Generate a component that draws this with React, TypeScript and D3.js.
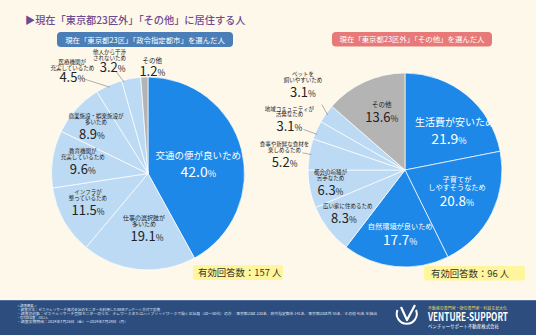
import React from "react";
import * as d3 from "d3";

// ---------- data ----------
const titleText = "▶現在「東京都23区外」「その他」に居住する人";

const leftHeading = "現在「東京都23区」「政令指定都市」を選んだ人";
const leftCategories = [
  "交通の便が良いため",
  "仕事の選択肢が\n多いため",
  "インフラが\n整っているため",
  "教育機関が\n充実しているため",
  "商業施設・娯楽施設が\n多いため",
  "医療機関が\n充実しているため",
  "他人から干渉\nされないため",
  "その他",
];
const leftValues = [42.0, 19.1, 11.5, 9.6, 8.9, 4.5, 3.2, 1.2];
const leftKinds = ["main", "sub", "sub", "sub", "sub", "sub", "sub", "other"];
const leftCount = "有効回答数：157 人";

const rightHeading = "現在「東京都23区外」「その他」を選んだ人";
const rightCategories = [
  "生活費が安いため",
  "子育てが\nしやすそうなため",
  "自然環境が良いため",
  "広い家に住めるため",
  "都会の喧騒が\n苦手なため",
  "食事や新鮮な食材を\n楽しめるため",
  "地域コミュニティが\n活発なため",
  "ペットを\n飼いやすいため",
  "その他",
];
const rightValues = [21.9, 20.8, 17.7, 8.3, 6.3, 5.2, 3.1, 3.1, 13.6];
const rightKinds = ["main", "main", "main", "sub", "sub", "sub", "sub", "sub", "other"];
const rightCount = "有効回答数：96 人";

const footerLines = [
  "＜調査概要＞",
  "・調査方法：ゼネラルリサーチ株式会社のモニターを利用したWEBアンケート方式で実施",
  "・調査の対象：ゼネラルリサーチ登録モニターのうち、テレワークまたはハイブリッドワークで働く正社員（20～50代）の方 ／東京都23区 233名／政令指定都市 141名／東京都23区外 55名／その他 41名 を抽出",
  "・有効回答数：1011人",
  "・調査実施期間：2024年7月26日（金）～2024年7月29日（月）",
];
const footerWidths = [20, 143, 360, 31, 111];

// ---------- layout / style ----------
const W = 536;
const H = 335;
const FONT = "'Noto Sans CJK JP', 'Noto Sans', sans-serif";
const COLORS: Record<string, string> = { main: "#1E88E8", sub: "#BCDAF3", other: "#B4B4B4" };
const BG = "#FDF8EA";

type LabelCfg = {
  rho: number; dx: number; dy: number; tfs: number; nfs: number; white?: boolean;
  tdx?: number; gapAdj?: number; leader?: [number, number, number];
};

const leftLayout: LabelCfg[] = [
  { rho: 52, dx: 0, dy: 16, tfs: 9.5, nfs: 14, white: true },
  { rho: 62, dx: 5, dy: 6, tfs: 6, nfs: 13, tdx: -3 },
  { rho: 70, dx: 1, dy: 7, tfs: 5.5, nfs: 13 },
  { rho: 66, dx: 0, dy: 10, tfs: 5.5, nfs: 13 },
  { rho: 70, dx: -4, dy: 12, tfs: 5.5, nfs: 13, tdx: 4 },
  { rho: 115, dx: -29, dy: 14, tfs: 5.5, nfs: 13, gapAdj: -2.5, leader: [13, -3, 0.5] },
  { rho: 105, dx: -17, dy: 2, tfs: 5.5, nfs: 13, tdx: -3, gapAdj: -2.5, leader: [4, 0, 0.1] },
  { rho: 98, dx: 8, dy: 0, tfs: 6.5, nfs: 13, gapAdj: -2.5 },
];
const rightLayout: LabelCfg[] = [
  { rho: 55, dx: 9, dy: 16, tfs: 10, nfs: 14, white: true, tdx: 6 },
  { rho: 58, dx: 0, dy: 10, tfs: 7.2, nfs: 13.5, white: true },
  { rho: 70, dx: 2, dy: 5, tfs: 7.2, nfs: 13.5, white: true },
  { rho: 76, dx: -1, dy: 7, tfs: 5.5, nfs: 13, tdx: 4 },
  { rho: 76, dx: 0, dy: 10, tfs: 5.5, nfs: 13 },
  { rho: 118, dx: -4, dy: 16, tfs: 5.5, nfs: 13, leader: [18, -14, 0.5] },
  { rho: 118, dx: -8, dy: 10, tfs: 5.5, nfs: 13, leader: [14, -2, 0.3] },
  { rho: 118, dx: -6, dy: -5, tfs: 5.5, nfs: 13, leader: [19, 8, 0.5] },
  { rho: 56, dx: 0, dy: 3, tfs: 6.5, nfs: 13 },
];

function Pie(props: {
  cx: number; cy: number; r: number; cats: string[]; values: number[]; kinds: string[]; layout: LabelCfg[];
}) {
  const { cx, cy, r, cats, values, kinds, layout } = props;
  const arcs = d3.pie<number>().sort(null).value((d) => d)(values);
  const arcGen = d3.arc<d3.PieArcDatum<number>>().innerRadius(0).outerRadius(r);
  return (
    <g>
      <g transform={`translate(${cx},${cy})`}>
        {arcs.map((a, i) => (
          <path key={i} d={arcGen(a) || ""} fill={COLORS[kinds[i]]} stroke="#ffffff" strokeWidth={0.7} />
        ))}
      </g>
      {arcs.map((a, i) => {
        const L = layout[i];
        const mid = (a.startAngle + a.endAngle) / 2;
        const x = cx + L.rho * Math.sin(mid) + L.dx;
        const y = cy - L.rho * Math.cos(mid) + L.dy;
        const lines = cats[i].split("\n");
        const fill = L.white ? "#ffffff" : "#222222";
        const gap = L.nfs * 0.75 + L.tfs * 0.45 + 2.8 + (L.gapAdj || 0);
        const lh = L.tfs * 1.05;
        let leader = null;
        if (L.leader) {
          const ang = a.startAngle + (a.endAngle - a.startAngle) * L.leader[2];
          const ex = cx + (r - 2) * Math.sin(ang);
          const ey = cy - (r - 2) * Math.cos(ang);
          leader = (
            <line x1={x + L.leader[0]} y1={y + L.leader[1]} x2={ex} y2={ey} stroke="#7a7a7a" strokeWidth={0.6} />
          );
        }
        return (
          <g key={"l" + i}>
            {leader}
            {lines.map((t, j) => (
              <text
                key={j}
                x={x + (L.tdx || 0)}
                y={y - gap - (lines.length - 1 - j) * lh}
                textAnchor="middle"
                fontSize={L.tfs}
                fill={fill}
                fontFamily={FONT}
              >
                {t}
              </text>
            ))}
            <text x={x} y={y} textAnchor="middle" fontSize={L.nfs} fill={fill} fontFamily={FONT}>
              {values[i].toFixed(1)}
              <tspan fontSize={L.nfs * 0.65}>%</tspan>
            </text>
          </g>
        );
      })}
    </g>
  );
}

export default function App() {
  return (
    <svg width={W} height={H} style={{ position: "absolute", left: 0, top: 0 }} fontFamily={FONT}>
      <rect x={0} y={0} width={W} height={H} fill={BG} />
      <text x={25} y={24} fontSize={10.2} fill="#6E4A92" fontWeight={500}>
        {titleText}
      </text>

      <rect x={57} y={32} width={176} height={15} rx={4} fill="#4B7DB6" />
      <text x={145} y={42.5} textAnchor="middle" fontSize={7.4} fill="#ffffff">
        {leftHeading}
      </text>
      <rect x={332} y={32} width={160} height={14.5} rx={4} fill="#E77A78" />
      <text x={412} y={42.3} textAnchor="middle" fontSize={7.4} fill="#ffffff">
        {rightHeading}
      </text>

      <Pie cx={148} cy={173.5} r={96.5} cats={leftCategories} values={leftValues} kinds={leftKinds} layout={leftLayout} />
      <Pie cx={405} cy={170} r={97} cats={rightCategories} values={rightValues} kinds={rightKinds} layout={rightLayout} />

      <rect x={193} y={265} width={90} height={15} rx={3} fill="#FFF59C" />
      <text x={198} y={276.3} fontSize={9.4} fill="#333333">
        {leftCount}
      </text>
      <rect x={424} y={266} width={101} height={14.5} rx={3} fill="#FFF59C" />
      <text x={431} y={277} fontSize={9.4} fill="#333333">
        {rightCount}
      </text>

      {/* footer */}
      <rect x={0} y={300} width={W} height={35} fill="#2C4D7E" />
      <rect x={0} y={300} width={W} height={0.8} fill="#5B7BA8" />
      {footerLines.map((t, i) => (
        <text
          key={i}
          x={17}
          y={307 + i * 4.1}
          fontSize={3}
          fill="#E1E7F0"
          textLength={footerWidths[i]}
          lengthAdjust="spacingAndGlyphs"
        >
          {t}
        </text>
      ))}
      <g transform="translate(407,315)">
        <path d="M -9.5 -5 A 10 10 0 1 0 9 -5" fill="none" stroke="#ffffff" strokeWidth={2} />
        <path d="M -6 -8 L 0 5 L 8 -10" fill="none" stroke="#ffffff" strokeWidth={2.2} strokeLinejoin="round" />
      </g>
      <text x={428} y={310} fontSize={4} fill="#E9D56A" textLength={79} lengthAdjust="spacingAndGlyphs">
        不動産の専門家・街の専門家・利益を最大化
      </text>
      <text x={428} y={321.3} fontSize={11} fontWeight="bold" fill="#ffffff" textLength={80} lengthAdjust="spacingAndGlyphs">
        VENTURE-SUPPORT
      </text>
      <text x={428} y={327.8} fontSize={4.4} fill="#ffffff" textLength={71} lengthAdjust="spacingAndGlyphs">
        ベンチャーサポート不動産株式会社
      </text>
    </svg>
  );
}
